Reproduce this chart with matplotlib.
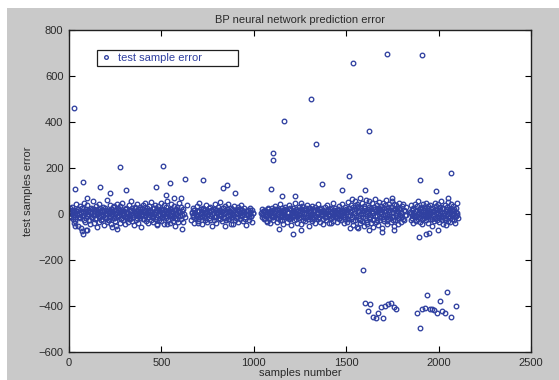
import matplotlib
import matplotlib.pyplot as plt
from matplotlib.patches import Rectangle

matplotlib.use('Agg')

# samples in the dense band around zero, by stretch of sample numbers
band_a_x = [2, 5, 8, 10, 13, 17, 20, 22, 25, 29, 31, 34, 38, 41, 43, 46, 50, 53, 55, 58,
            62, 64, 67, 71, 74, 76, 79, 83, 86, 88, 91, 95, 97, 100, 104, 107, 109, 112, 116, 119,
            121, 124, 128, 130, 133, 137, 140, 142, 145, 149, 152, 154, 157, 161, 163, 166, 170, 173, 175, 178,
            182, 185, 187, 190, 194, 196, 199, 203, 206, 208, 211, 215, 218, 220, 223, 227, 229, 232, 236, 239,
            241, 244, 248, 251, 253, 256, 260, 262, 265, 269, 272, 274, 277, 281, 284, 286, 289, 293, 295, 298,
            302, 305, 307, 310, 314, 317, 319, 322, 326, 328, 331, 335, 338, 340, 343, 347, 350, 352, 355, 359,
            361, 364, 368, 371, 373, 376, 380, 383, 385, 388, 392, 394, 397, 401, 404, 406, 409, 413, 416, 418,
            421, 425, 427, 430, 434, 437, 439, 442, 446, 449, 451, 454, 458, 460, 463, 467, 470, 472, 475, 479,
            482, 484, 487, 491, 493, 496, 500, 503, 505, 508, 512, 515, 517, 520, 524, 526, 529, 533, 536, 538,
            541, 545, 548, 550, 553, 557, 559, 562, 566, 569, 571, 574, 578, 581, 583, 586, 590, 592, 595, 599]
band_a_y = [12, -8, 25, 3, -15, 30, -22, 8, -40, 18, 5, -30, 42, -5, 15, -50, 22, -12, 0, 35,
            -18, 10, -62, 28, -3, 14, -25, 48, 6, -35, 20, -10, 38, -70, 2, 17, -28, 9, -45, 26,
            4, -16, 55, -6, 21, -38, 11, -20, 33, -2, -55, 16, 7, -33, 44, -14, 24, -4, -26, 13,
            31, -9, 19, -48, 6, 27, -19, 62, -1, -36, 14, 3, -24, 40, -11, 23, -42, 8, 29, -7,
            -17, 36, 1, -29, 18, -52, 10, 45, -13, 22, -6, 34, -39, 15, -21, 5, 50, -27, 12, -3,
            20, -44, 9, 28, -16, 4, -34, 39, -8, 16, -23, 58, 2, -31, 25, -12, 7, -47, 32, -2,
            14, -26, 43, -10, 21, -37, 6, 30, -18, 11, -58, 24, -5, 37, -22, 15, -9, 48, -30, 3,
            26, -14, 8, -41, 35, -4, 18, -28, 52, -15, 10, -35, 27, 1, -20, 41, -11, 17, -49, 22,
            -6, 33, -24, 12, -2, 46, -32, 19, -13, 7, 38, -43, 13, -8, 29, -19, 4, 56, -26, 9,
            16, -38, 23, -5, 42, -17, 11, -29, 34, -10, 6, -54, 21, -1, 31, -22, 15, -36, 47, -7]

band_b_x = [602, 604, 607, 611, 614, 616, 619, 623, 626, 640, 662, 666, 669, 672, 676, 679, 683, 686, 690, 693,
            697, 700, 704, 707, 711, 714, 718, 721, 725, 728, 732, 735, 739, 742, 746, 749, 753, 756, 760, 763,
            767, 770, 774, 777, 781, 784, 788, 791, 795, 798, 802, 805, 809, 812, 816, 819, 823, 826, 830, 833,
            837, 840, 844, 847, 851, 854, 858, 861, 865, 868, 872, 875, 879, 882, 886, 889, 893, 896, 900, 903,
            907, 910, 914, 917, 921, 924, 928, 931, 935, 938, 942, 945, 949, 952, 956, 959, 963, 966, 970, 973,
            977, 980, 984, 988, 992, 996]
band_b_y = [8, -21, 30, -4, 15, -33, 22, 2, -12, 41, -27, 10, -6, 26, -40, 17, 5, -18, 35, -9,
            12, -30, 47, 0, -15, 21, -45, 9, 28, -11, 18, -24, 6, 38, -35, 14, -2, 24, -19, 31,
            -7, 11, -50, 20, 3, -26, 44, -13, 16, -38, 7, 29, -4, 19, -22, 52, -10, 13, -31, 25,
            1, -16, 34, -28, 9, 23, -8, 43, -20, 15, -3, 27, -42, 6, 18, -14, 36, -25, 10, -1,
            22, -12, 30, -36, 14, 4, -20, 39, -6, 17, -29, 8, 25, -15, 12, -46, 11, -5, 19, -24,
            6, 28, -9, 16, -33, 3]

band_c_x = [1040, 1043, 1046, 1050, 1053, 1056, 1060, 1063, 1066, 1070, 1073, 1076, 1080, 1083, 1086, 1090, 1093, 1096, 1100, 1103,
            1106, 1110, 1113, 1116, 1120, 1123, 1126, 1130, 1133, 1136, 1140, 1143, 1146, 1150, 1153, 1156, 1160, 1163, 1166, 1170,
            1173, 1176, 1180, 1183, 1186, 1190, 1193, 1196, 1200, 1203, 1206, 1210, 1213, 1216, 1220, 1223, 1226, 1230, 1233, 1236,
            1240, 1243, 1246, 1250, 1253, 1256, 1260, 1263, 1266, 1270, 1273, 1276, 1280, 1283, 1286, 1290, 1293, 1296, 1300, 1303,
            1306, 1310, 1313, 1316, 1320, 1323, 1326, 1330, 1333, 1336, 1340, 1343, 1346, 1350, 1353, 1356, 1360, 1363, 1366, 1370,
            1373, 1376, 1380, 1383, 1386, 1390, 1393, 1396, 1400, 1403, 1406, 1410, 1413, 1416, 1420, 1423, 1426, 1430, 1433, 1436,
            1440, 1443, 1446, 1450, 1453, 1456, 1460, 1463, 1466, 1470, 1473, 1476, 1480, 1483, 1486, 1490, 1493, 1496, 1500]
band_c_y = [5, -14, 20, -3, 11, -22, 2, 16, -9, -30, 8, 24, -17, 0, 13, -40, 6, 28, -12, 18,
            -25, 3, 34, -7, 14, -35, 21, -1, -19, 9, 42, -28, 12, -5, 26, -44, 17, 1, -15, 31,
            -8, 22, -33, 10, 4, -21, 37, -13, 19, -48, 7, 25, -3, -27, 15, 46, -10, 23, -38, 2,
            13, -18, 30, -6, 20, -42, 9, 35, -24, 16, -2, -32, 27, 5, -14, 40, -20, 11, -52, 24,
            -4, 18, -29, 33, 1, -16, 12, -37, 29, -9, 21, 3, -23, 44, -11, 15, -34, 8, 26, -6,
            17, -45, 10, 32, -13, 6, -26, 38, -1, 14, -39, 22, -8, 28, -18, 4, 49, -30, 12, -3,
            24, -15, 9, -36, 19, 2, -22, 35, -10, 13, -28, 43, -5, 18, -41, 7, 30, -12, 20]

band_d_x = [1503, 1506, 1509, 1512, 1515, 1518, 1521, 1524, 1527, 1530, 1533, 1536, 1539, 1542, 1545, 1548, 1551, 1554, 1557, 1560,
            1563, 1566, 1569, 1572, 1575, 1578, 1581, 1584, 1587, 1590, 1593, 1596, 1599, 1602, 1605, 1608, 1611, 1614, 1617, 1620,
            1623, 1626, 1629, 1632, 1635, 1638, 1641, 1644, 1647, 1650, 1653, 1656, 1659, 1662, 1665, 1668, 1671, 1674, 1677, 1680,
            1683, 1686, 1689, 1692, 1695, 1698, 1701, 1704, 1707, 1710, 1713, 1716, 1719, 1722, 1725, 1728, 1731, 1734, 1737, 1740,
            1743, 1746, 1749, 1752, 1755, 1758, 1761, 1764, 1767, 1770, 1773, 1776, 1779, 1782, 1785, 1788, 1791, 1794, 1797, 1800,
            1804, 1808, 1812, 1816, 1820, 1825]
band_d_y = [18, -35, 52, -8, 27, -60, 10, 40, -22, 65, -14, 31, -47, 4, 58, -28, 21, -5, 44, -55,
            12, 36, -18, 70, -40, 6, 25, -30, 48, -12, 15, -52, 33, -2, 62, -25, 9, -44, 38, 20,
            -16, 55, -6, 28, -38, 14, 46, -58, 3, 30, -20, 67, -34, 11, 41, -10, 24, -48, 17, 53,
            -26, 7, 35, -62, 22, -4, 50, -32, 13, 39, -15, 60, -42, 1, 29, -21, 45, -8, 19, -36,
            32, -11, 57, -28, 8, 43, -50, 16, -3, 37, -24, 26, -45, 10, 48, -17, 23, -33, 5, 34,
            -13, 42, -27, 15, -6, 30]

band_e_x = [1846, 1849, 1852, 1855, 1858, 1861, 1864, 1867, 1870, 1873, 1876, 1879, 1882, 1885, 1888, 1891, 1894, 1897, 1900, 1903,
            1906, 1909, 1912, 1915, 1918, 1921, 1924, 1927, 1930, 1933, 1936, 1939, 1942, 1945, 1948, 1951, 1954, 1957, 1960, 1963,
            1966, 1969, 1972, 1975, 1978, 1981, 1984, 1987, 1990, 1993, 1996, 1999, 2002, 2005, 2008, 2011, 2014, 2017, 2020, 2023,
            2026, 2029, 2032, 2035, 2038, 2041, 2044, 2047, 2050, 2053, 2056, 2059, 2062, 2065, 2068, 2071, 2074, 2077, 2080, 2083,
            2086, 2089, 2092, 2095, 2098, 2101, 2104]
band_e_y = [10, -25, 38, -5, 18, -40, 28, 3, -15, 45, -30, 12, -8, 33, -20, 55, 6, -35, 22, -2,
            15, -45, 30, -10, 42, -18, 8, 25, -28, 50, -4, 17, -38, 35, 1, -22, 40, -12, 20, -50,
            27, -7, 13, -32, 48, -16, 5, 36, -26, 19, -1, 44, -36, 11, 30, -14, 58, -24, 9, -42,
            24, -6, 39, -19, 14, -47, 32, 2, -29, 52, -11, 21, -34, 7, 43, -21, 16, -3, 35, -27,
            11, -40, 26, -9, 46, 4, -17]

# more samples packed in the core of the band
core_a_x = [4, 11, 15, 23, 27, 33, 40, 45, 51, 57, 63, 69, 73, 80, 85, 92, 98, 103, 110, 115,
            122, 127, 134, 139, 146, 151, 158, 164, 169, 176, 181, 188, 193, 200, 205, 212, 217, 224, 230, 235,
            242, 247, 254, 259, 266, 271, 278, 283, 290, 296, 301, 308, 313, 320, 325, 332, 337, 344, 349, 356,
            362, 367, 374, 379, 386, 391, 398, 403, 410, 415, 422, 428, 433, 440, 445, 452, 457, 464, 469, 476,
            481, 488, 494, 499, 506, 511, 518, 523, 530, 535, 542, 547, 554, 560, 565, 572, 577, 584, 589, 596]
core_a_y = [3, -12, 18, -6, 9, -20, 14, -2, 22, -15, 6, -9, 25, -4, 11, -18, 1, 16, -24, 7,
            -11, 20, -3, 13, -17, 5, 23, -8, 10, -22, 2, 15, -13, 19, -1, -25, 8, 12, -6, 21,
            -16, 4, 17, -10, 24, -5, 9, -19, 14, 0, -14, 22, -7, 6, -21, 11, 18, -3, -12, 26,
            5, -17, 13, -9, 20, -2, 8, -23, 16, -6, 3, 19, -15, 10, -1, 24, -11, 7, -20, 15,
            -4, 12, -18, 21, 2, -13, 17, -8, 9, -24, 14, -3, 23, -10, 6, -16, 19, 1, -7, 11]

core_b_x = [665, 671, 678, 685, 692, 699, 706, 713, 720, 727, 734, 741, 748, 755, 762, 769, 776, 783, 790, 797,
            804, 811, 818, 825, 832, 839, 846, 853, 860, 867, 874, 881, 888, 895, 902, 909, 916, 923, 930, 937,
            944, 951, 958, 965, 972, 979, 986, 993]
core_b_y = [6, -14, 19, -3, 11, -21, 15, 2, -9, 23, -17, 8, -5, 13, -24, 18, 1, -12, 21, -7,
            10, -19, 16, -2, 25, -11, 4, 14, -22, 7, -15, 20, -6, 12, -18, 3, 17, -10, 22, -4,
            9, -20, 13, 0, -13, 18, -8, 5]

core_c_x = [1045, 1051, 1057, 1063, 1069, 1075, 1081, 1087, 1093, 1099, 1105, 1111, 1117, 1123, 1129, 1135, 1141, 1147, 1153, 1159,
            1165, 1171, 1177, 1183, 1189, 1195, 1201, 1207, 1213, 1219, 1225, 1231, 1237, 1243, 1249, 1255, 1261, 1267, 1273, 1279,
            1285, 1291, 1297, 1303, 1309, 1315, 1321, 1327, 1333, 1339, 1345, 1351, 1357, 1363, 1369, 1375, 1381, 1387, 1393, 1399,
            1405, 1411, 1417, 1423, 1429, 1435, 1441, 1447, 1453, 1459, 1465, 1471, 1477, 1483, 1489, 1495]
core_c_y = [-2, 12, -16, 7, -9, 20, -21, 4, 15, -6, -13, 9, 22, -18, 1, 17, -11, 6, -24, 13,
            -4, 19, -15, 10, -8, 24, -19, 3, 14, -10, 8, -22, 18, -1, 11, -14, 21, -7, 5, -17,
            16, -3, 25, -12, 2, -20, 13, -5, 19, -9, 6, -16, 23, -2, 10, -23, 15, 0, -11, 20,
            -6, 12, -19, 8, -14, 17, 3, -8, 22, -18, 11, -4, 14, -12, 7, -21]

core_d_x = [1505, 1511, 1517, 1523, 1529, 1535, 1541, 1547, 1553, 1559, 1565, 1571, 1577, 1583, 1589, 1595, 1601, 1607, 1613, 1619,
            1625, 1631, 1637, 1643, 1649, 1655, 1661, 1667, 1673, 1679, 1685, 1691, 1697, 1703, 1709, 1715, 1721, 1727, 1733, 1739,
            1745, 1751, 1757, 1763, 1769, 1775, 1781, 1787, 1793, 1799, 1806, 1814, 1822]
core_d_y = [9, -22, 28, -5, 16, -30, 21, 3, -14, 32, -9, 12, -26, 19, -2, 25, -18, 7, -33, 14,
            30, -12, 5, -24, 22, -7, 17, -28, 11, 27, -15, 2, -20, 24, -4, 13, -31, 18, 8, -16,
            29, -10, 20, -25, 4, 15, -19, 26, -6, 10, -23, 18, -3]

core_e_x = [1848, 1854, 1860, 1866, 1872, 1878, 1884, 1890, 1896, 1902, 1908, 1914, 1920, 1926, 1932, 1938, 1944, 1950, 1956, 1962,
            1968, 1974, 1980, 1986, 1992, 1998, 2004, 2010, 2016, 2022, 2028, 2034, 2040, 2046, 2052, 2058, 2064, 2070, 2076, 2082,
            2088, 2094, 2100]
core_e_y = [4, -18, 22, -7, 13, -25, 17, 1, -12, 26, -20, 9, -3, 19, -15, 6, 24, -9, 11, -22,
            15, -1, -17, 21, 7, -11, 18, -5, 27, -14, 3, -24, 12, 20, -8, 16, -19, 5, -2, 23,
            -13, 10, -6]

# scattered samples away from the band
spread_x = [27, 31, 74, 95, 167, 221, 306, 470, 525, 545, 569, 608, 69, 75, 90, 35, 231, 258, 477, 528,
            614, 277, 511, 630, 725, 700, 833, 855, 896, 842, 887, 1069, 1094, 1134, 1152, 1210, 1224, 1253, 1256, 1105,
            1105, 1166, 1312, 1339, 1370, 1418, 1476, 1517, 1535, 1562, 1600, 1622, 1625, 1694, 1719, 1746, 1760, 1892, 1897, 1912,
            1930, 1949, 1985, 1998, 2050, 2067, 1591]
spread_y = [459, 107, 141, 70, 119, 90, 104, 119, 84, 133, 68, 68, -75, -85, -70, -52, -58, -67, -42, -45,
            -67, 204, 210, 151, 148, -39, 112, 126, 90, -52, -42, -36, 107, -64, 78, -87, 78, -70, 49, 265,
            236, 403, 499, 305, 129, -41, 103, 165, 655, -62, 103, 360, -70, -77, 694, 71, -70, -101, 148, 691,
            -86, -81, 100, -70, 68, 177, -245]

# cluster of large negative errors
low_x = [1602, 1631, 1618, 1647, 1659, 1674, 1687, 1701, 1712, 1726, 1744, 1760, 1770,
         1881, 1897, 1910, 1924, 1939, 1953, 1964, 1975, 1993, 2007, 2021, 2034, 2048, 2067, 2093]
low_y = [-386, -391, -423, -449, -452, -429, -403, -452, -400, -391, -386, -403, -412,
         -429, -496, -412, -407, -352, -412, -412, -417, -429, -378, -423, -429, -340, -449, -399]

x_all = (band_a_x + band_b_x + band_c_x + band_d_x + band_e_x
         + core_a_x + core_b_x + core_c_x + core_d_x + core_e_x + spread_x + low_x)
y_all = (band_a_y + band_b_y + band_c_y + band_d_y + band_e_y
         + core_a_y + core_b_y + core_c_y + core_d_y + core_e_y + spread_y + low_y)

text_color = '#2a2a2a'
marker_color = '#3040a0'

# grey figure with the thin white margin on the top and left
fig = plt.figure(figsize=(5.59, 3.80), dpi=100, facecolor='#c9c9c9')
fig.patches.append(Rectangle((0, 0), 7 / 559, 1, transform=fig.transFigure,
                             facecolor='white', edgecolor='none', zorder=-10))
fig.patches.append(Rectangle((0, 1 - 8 / 380), 1, 8 / 380, transform=fig.transFigure,
                             facecolor='white', edgecolor='none', zorder=-10))

ax = fig.add_axes([69 / 559, 28 / 380, 462 / 559, 322 / 380])
ax.plot(x_all, y_all, linestyle='none', marker='o', markersize=3.3, markeredgewidth=0.95,
        markerfacecolor='none', markeredgecolor=marker_color, label='test sample error')

ax.set_xlim(0, 2500)
ax.set_ylim(-600, 800)
ax.set_xticks([0, 500, 1000, 1500, 2000, 2500])
ax.set_yticks([-600, -400, -200, 0, 200, 400, 600, 800])
ax.tick_params(direction='in', top=True, right=True, length=4, width=0.8,
               labelsize=8, labelcolor=text_color, pad=4)
for spine in ax.spines.values():
  spine.set_color('#202020')
  spine.set_linewidth(1.0)

font = {'family': 'Liberation Sans', 'size': 8, 'color': text_color}
ax.set_title('BP neural network prediction error', fontdict=font, pad=5)
ax.set_xlabel('samples number', fontdict=font, labelpad=0)
ax.set_ylabel('test samples error', fontdict=font, labelpad=4)
for label in ax.get_xticklabels() + ax.get_yticklabels():
  label.set_family('Liberation Sans')

leg = ax.legend(loc='center left', bbox_to_anchor=(0.061, 0.886, 0.3055, 0.054), mode='expand',
                borderaxespad=0, fancybox=False, edgecolor='#202020', framealpha=1, borderpad=0.3,
                handlelength=1.0, handletextpad=0.6, markerscale=0.8,
                prop={'family': 'Liberation Sans', 'size': 8})
leg.get_frame().set_linewidth(0.9)
for t in leg.get_texts():
  t.set_color(marker_color)

plt.savefig('out.png', dpi=100)
